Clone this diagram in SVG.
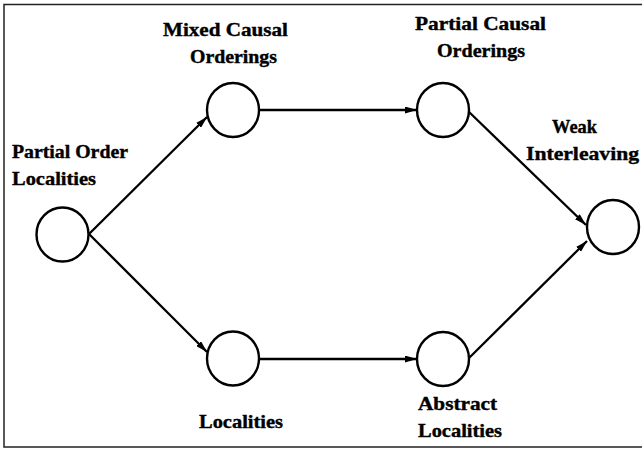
<svg xmlns="http://www.w3.org/2000/svg" width="642" height="450" viewBox="0 0 642 450">
<style>
.n{fill:#fff;stroke:#000;stroke-width:2.4}
.e{stroke:#000;stroke-width:2.3;fill:none}
.t{font-family:"Liberation Serif","DejaVu Serif",serif;font-weight:bold;font-size:19.5px;fill:#000;stroke:#000;stroke-width:0.4}
.b{stroke:#222;stroke-width:1.5;fill:none}
</style>
<defs>
<marker id="ar" viewBox="0 0 12 7" refX="12" refY="3.5" markerWidth="12" markerHeight="7" markerUnits="userSpaceOnUse" orient="auto">
<path d="M0,0 L12,3.5 L0,7 Z" fill="#000"/>
</marker>
</defs>
<path class="b" d="M643,4.5 H4 V447 H643"/>
<g id="connectors">
<line class="e" x1="89" y1="234" x2="207" y2="117" marker-end="url(#ar)"/>
<line class="e" x1="89" y1="234" x2="207" y2="352" marker-end="url(#ar)"/>
<line class="e" x1="259" y1="110" x2="417" y2="110" marker-end="url(#ar)"/>
<line class="e" x1="259" y1="359" x2="417" y2="359" marker-end="url(#ar)"/>
<line class="e" x1="468" y1="111" x2="586" y2="225" marker-end="url(#ar)"/>
<line class="e" x1="468" y1="359" x2="587" y2="241" marker-end="url(#ar)"/>
</g>
<g id="partial-order-localities">
<ellipse class="n" cx="62.5" cy="234.5" rx="26" ry="27"/>
<text class="t" x="12" y="158" textLength="116" lengthAdjust="spacingAndGlyphs">Partial Order</text>
<text class="t" x="12" y="185" textLength="84" lengthAdjust="spacingAndGlyphs">Localities</text>
</g>
<g id="mixed-causal-orderings">
<ellipse class="n" cx="233" cy="110" rx="26" ry="27"/>
<text class="t" x="163" y="36" textLength="125" lengthAdjust="spacingAndGlyphs">Mixed Causal</text>
<text class="t" x="190" y="63" textLength="87" lengthAdjust="spacingAndGlyphs">Orderings</text>
</g>
<g id="partial-causal-orderings">
<ellipse class="n" cx="443" cy="110" rx="26" ry="27"/>
<text class="t" x="415" y="30" textLength="131" lengthAdjust="spacingAndGlyphs">Partial Causal</text>
<text class="t" x="437" y="57" textLength="88" lengthAdjust="spacingAndGlyphs">Orderings</text>
</g>
<g id="weak-interleaving">
<ellipse class="n" cx="613" cy="227" rx="26" ry="27"/>
<text class="t" x="552" y="133" textLength="45" lengthAdjust="spacingAndGlyphs">Weak</text>
<text class="t" x="526" y="160" textLength="113" lengthAdjust="spacingAndGlyphs">Interleaving</text>
</g>
<g id="localities">
<ellipse class="n" cx="233" cy="358.5" rx="26" ry="27"/>
<text class="t" x="199" y="428" textLength="84" lengthAdjust="spacingAndGlyphs">Localities</text>
</g>
<g id="abstract-localities">
<ellipse class="n" cx="443" cy="359" rx="26" ry="27"/>
<text class="t" x="418" y="410" textLength="79" lengthAdjust="spacingAndGlyphs">Abstract</text>
<text class="t" x="418" y="437" textLength="84" lengthAdjust="spacingAndGlyphs">Localities</text>
</g>
</svg>
